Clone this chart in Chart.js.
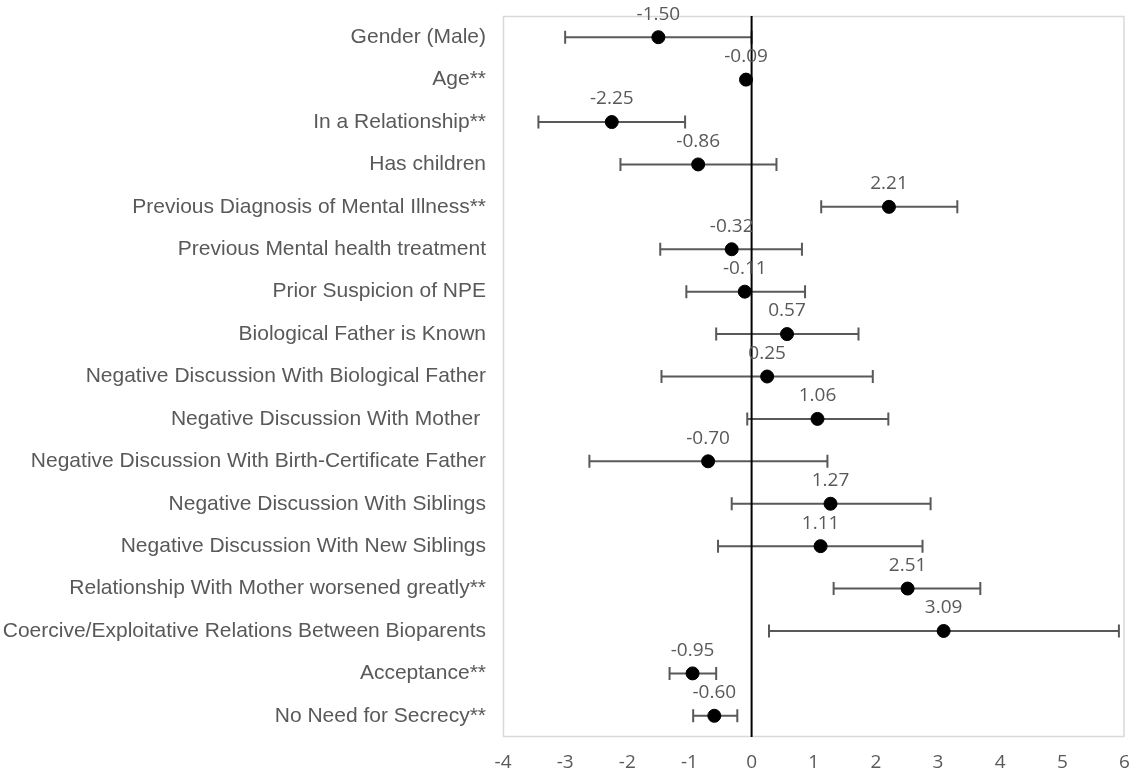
<!DOCTYPE html>
<html>
<head>
<meta charset="utf-8">
<script src="https://cdn.jsdelivr.net/npm/chart.js@4"></script>
<style>
html,body{margin:0;padding:0;background:#fff;}
#wrap{width:1133px;height:776px;}
</style>
</head>
<body>
<div id="wrap"><canvas id="c" width="1133" height="776"></canvas></div>
<script>
const categories = [
  "Gender (Male)",
  "Age**",
  "In a Relationship**",
  "Has children",
  "Previous Diagnosis of Mental Illness**",
  "Previous Mental health treatment",
  "Prior Suspicion of NPE",
  "Biological Father is Known",
  "Negative Discussion With Biological Father",
  "Negative Discussion With Mother ",
  "Negative Discussion With Birth-Certificate Father",
  "Negative Discussion With Siblings",
  "Negative Discussion With New Siblings",
  "Relationship With Mother worsened greatly**",
  "Coercive/Exploitative Relations Between Bioparents",
  "Acceptance**",
  "No Need for Secrecy**"
];
const estimates = [-1.50,-0.09,-2.25,-0.86,2.21,-0.32,-0.11,0.57,0.25,1.06,-0.70,1.27,1.11,2.51,3.09,-0.95,-0.60];
const lowerCI   = [-3.00,-0.12,-3.43,-2.11,1.12,-1.47,-1.05,-0.57,-1.45,-0.07,-2.61,-0.32,-0.54,1.32,0.28,-1.32,-0.94];
const upperCI   = [ 0.00,-0.06,-1.07, 0.40,3.31, 0.81, 0.86, 1.72, 1.95, 2.20, 1.22, 2.88, 2.75,3.68,5.91,-0.57,-0.23];
const xTicks = [-4,-3,-2,-1,0,1,2,3,4,5,6];

const rowPos = categories.map((c,i)=>i+1);
const pointData = estimates.map((v,i)=>({x:v,y:rowPos[i]}));
const barData = [];
rowPos.forEach((r,i)=>{
  barData.push({x:lowerCI[i],y:r},{x:upperCI[i],y:r},{x:null,y:null});
});
const yMin = 0.5, yMax = 17.5;
const zeroLine = [{x:0,y:yMin},{x:0,y:yMax}];

const GRAY = '#595959';

const framePlugin = {
  id:'frame',
  beforeDatasetsDraw(chart){
    const a = chart.chartArea, ctx = chart.ctx;
    ctx.save();
    ctx.strokeStyle = '#d9d9d9';
    ctx.lineWidth = 1.5;
    ctx.strokeRect(a.left+0.5, a.top+0.5, a.right-a.left-1, a.bottom-a.top-1);
    ctx.restore();
  }
};
const labelPlugin = {
  id:'vlabels',
  afterDatasetsDraw(chart){
    const meta = chart.getDatasetMeta(0);
    const ctx = chart.ctx;
    ctx.save();
    ctx.font = '19px "Open Sans"';
    ctx.fillStyle = GRAY;
    ctx.textAlign = 'center';
    ctx.textBaseline = 'middle';
    meta.data.forEach((el,i)=>{
      ctx.fillText(estimates[i].toFixed(2), el.x, el.y-23);
    });
    ctx.restore();
  }
};

new Chart(document.getElementById('c'),{
  type:'scatter',
  data:{
    datasets:[
      {label:'Estimate',data:pointData,backgroundColor:'#000',borderColor:'#000',pointRadius:6.5,pointHoverRadius:6.5,order:0},
      {label:'Zero',data:zeroLine,showLine:true,borderColor:'#000',borderWidth:2,pointRadius:0,order:1},
      {label:'CI',data:barData,showLine:true,spanGaps:false,borderColor:GRAY,borderWidth:2,
       pointStyle:'line',rotation:90,pointRadius:6.5,pointBorderWidth:2,pointBorderColor:GRAY,order:2}
    ]
  },
  options:{
    responsive:false,
    animation:false,
    events:[],
    layout:{padding:{top:16,right:7,left:0,bottom:0}},
    plugins:{legend:{display:false},tooltip:{enabled:false}},
    scales:{
      x:{
        type:'linear',min:-4,max:6,
        afterBuildTicks(s){ s.ticks = xTicks.map(v=>({value:v})); },
        afterFit(s){ s.height = 39; s.paddingLeft = 0; s.paddingRight = 0; },
        grid:{display:false,drawTicks:false},
        border:{display:false},
        ticks:{color:GRAY,font:{family:'"Open Sans"',size:19},padding:14,maxRotation:0,autoSkip:false}
      },
      y:{
        type:'linear',min:yMin,max:yMax,reverse:true,
        afterBuildTicks(s){ s.ticks = rowPos.map(v=>({value:v})); },
        afterFit(s){ s.width = 503; s.paddingTop = 0; s.paddingBottom = 0; },
        grid:{display:false,drawTicks:false},
        border:{display:false},
        ticks:{color:GRAY,font:{family:'"Liberation Sans"',size:21},padding:17,autoSkip:false,
          callback:(v)=>categories[v-1]}
      }
    }
  },
  plugins:[framePlugin,labelPlugin]
});
</script>
</body>
</html>
